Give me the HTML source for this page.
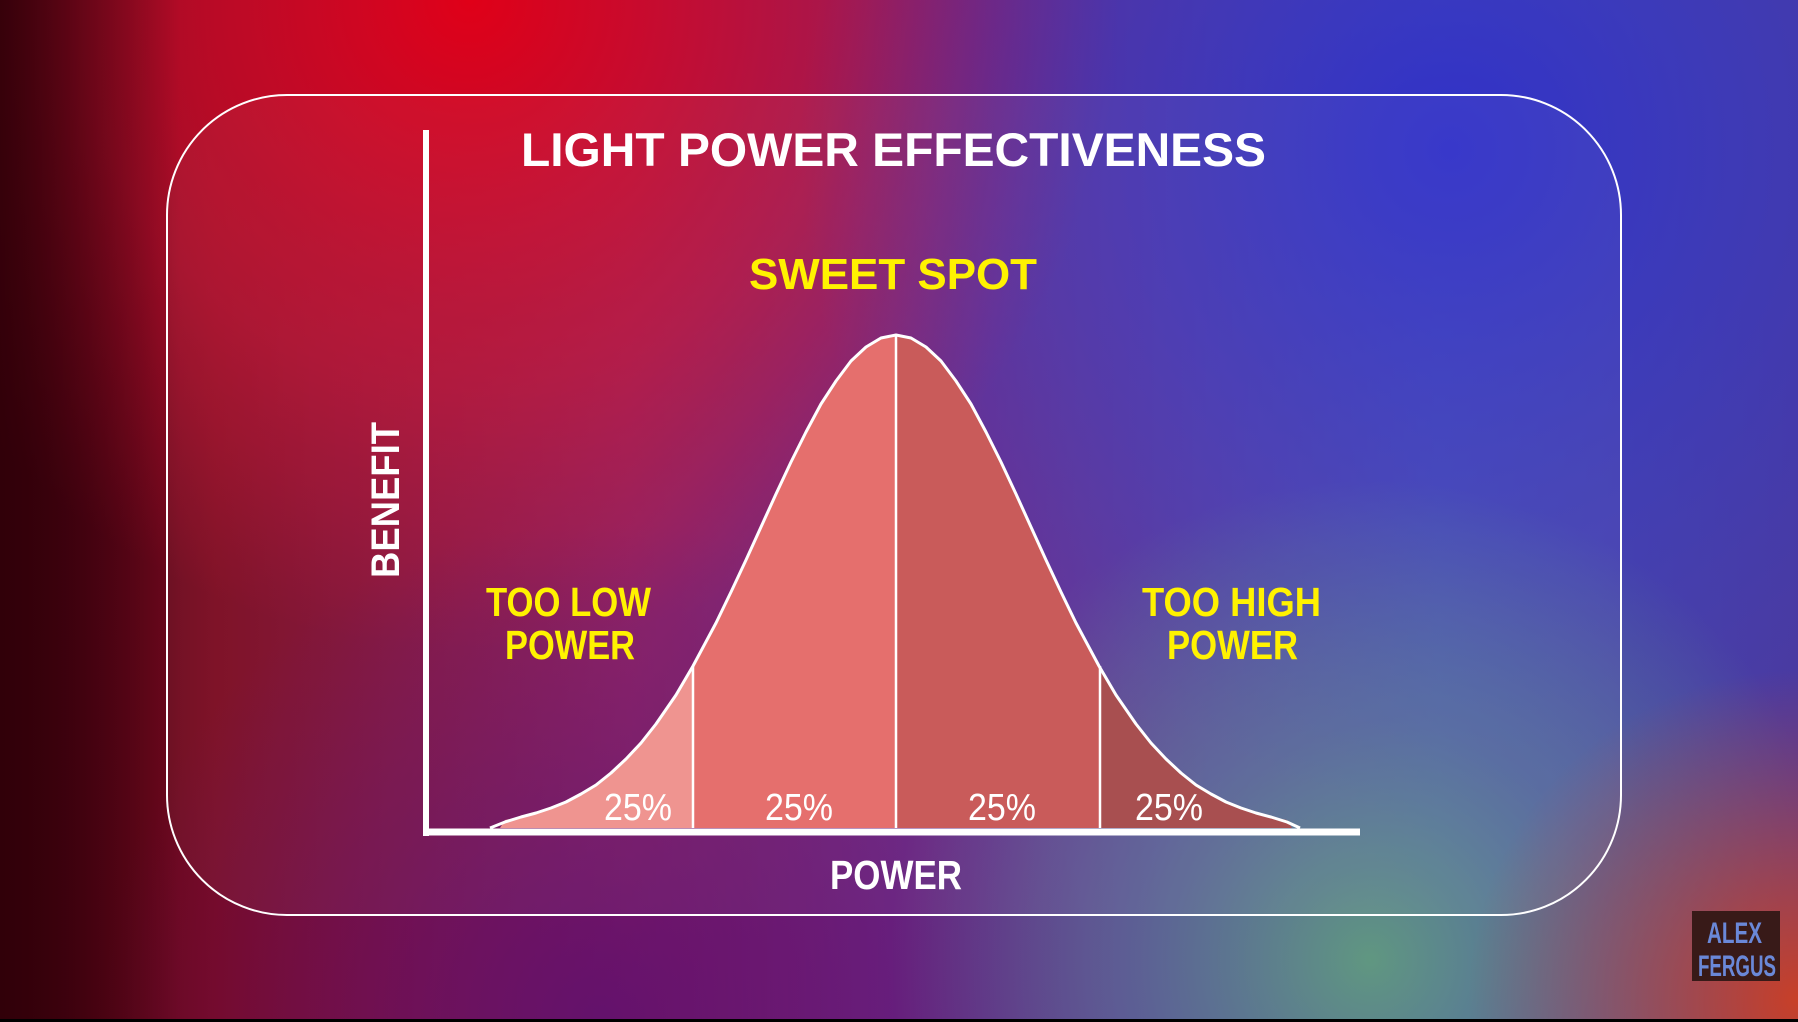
<!DOCTYPE html>
<html><head><meta charset="utf-8"><style>
html,body{margin:0;padding:0;width:1798px;height:1022px;overflow:hidden;background:#000}
svg{display:block}
.c{font-family:"Liberation Sans Narrow","Liberation Sans",sans-serif;font-weight:bold}
</style></head><body>
<svg width="1798" height="1022" viewBox="0 0 1798 1022" xmlns="http://www.w3.org/2000/svg">
<defs>
<linearGradient id="base" x1="0" y1="0" x2="1" y2="0">
<stop offset="0" stop-color="#3a0010"/><stop offset="0.12" stop-color="#7a0a20"/>
<stop offset="0.35" stop-color="#8a1a60"/><stop offset="0.55" stop-color="#62288e"/>
<stop offset="0.8" stop-color="#4a4ab0"/><stop offset="1" stop-color="#4a3aa0"/>
</linearGradient>
<radialGradient id="red" cx="470" cy="0" r="650" gradientUnits="userSpaceOnUse">
<stop offset="0" stop-color="#e00018" stop-opacity="1"/><stop offset="0.6" stop-color="#c81030" stop-opacity="0.6"/><stop offset="1" stop-color="#c81030" stop-opacity="0"/>
</radialGradient>
<radialGradient id="blue" cx="1450" cy="150" r="650" gradientUnits="userSpaceOnUse">
<stop offset="0" stop-color="#3030c8" stop-opacity="1"/><stop offset="1" stop-color="#3a40c0" stop-opacity="0"/>
</radialGradient>
<radialGradient id="green" cx="1370" cy="960" r="480" gradientUnits="userSpaceOnUse">
<stop offset="0" stop-color="#62a07c" stop-opacity="0.9"/><stop offset="0.5" stop-color="#5f8a90" stop-opacity="0.5"/><stop offset="1" stop-color="#60a080" stop-opacity="0"/>
</radialGradient>
<radialGradient id="orng" cx="1798" cy="1000" r="330" gradientUnits="userSpaceOnUse">
<stop offset="0" stop-color="#c84028" stop-opacity="1"/><stop offset="1" stop-color="#c04030" stop-opacity="0"/>
</radialGradient>
<radialGradient id="purp" cx="600" cy="1022" r="500" gradientUnits="userSpaceOnUse">
<stop offset="0" stop-color="#5a1070" stop-opacity="0.8"/><stop offset="1" stop-color="#5a1070" stop-opacity="0"/>
</radialGradient>
<linearGradient id="dark" x1="0" y1="0" x2="1" y2="0">
<stop offset="0" stop-color="#300008" stop-opacity="0.9"/><stop offset="0.1" stop-color="#300008" stop-opacity="0"/>
</linearGradient>
</defs>
<rect width="1798" height="1022" fill="url(#base)"/>
<rect width="1798" height="1022" fill="url(#red)"/>
<rect width="1798" height="1022" fill="url(#blue)"/>
<rect width="1798" height="1022" fill="url(#purp)"/>
<rect width="1798" height="1022" fill="url(#green)"/>
<rect width="1798" height="1022" fill="url(#orng)"/>
<rect width="1798" height="1022" fill="url(#dark)"/>
<rect x="0" y="1019" width="1798" height="3" fill="#000"/>

<rect x="167" y="95" width="1454" height="820" rx="120" ry="120" fill="rgba(255,255,255,0.04)" stroke="#fff" stroke-width="2"/>

<polygon fill="#ef9490" points="500,828 505,820 521,817 536,813 551,808 566,802 581,794 596,785 611,773 626,759 641,743 656,724 676,695 693,666 693,828"/>
<polygon fill="#e56f6d" points="693,666 716,623 731,592 746,560 761,527 776,494 791,462 806,432 821,404 836,381 851,361 866,347 881,338 896,335 896,828 693,828"/>
<polygon fill="#c95b5a" points="896,335 911,338 926,347 941,361 956,381 971,404 986,432 1001,462 1016,494 1031,527 1046,560 1061,592 1076,623 1099,666 1099,828 896,828"/>
<polygon fill="#a84f50" points="1099,666 1116,695 1136,724 1151,743 1166,759 1181,773 1196,785 1211,794 1226,802 1241,808 1256,813 1271,817 1287,820 1292,828 1099,828"/>
<polyline fill="none" stroke="#fff" stroke-width="3" stroke-linejoin="round" points="490,828 505,822 521,817 536,813 551,808 566,802 581,794 596,785 611,773 626,759 641,743 656,724 676,695 693,666 716,623 731,592 746,560 761,527 776,494 791,462 806,432 821,404 836,381 851,361 866,347 881,338 896,335 911,338 926,347 941,361 956,381 971,404 986,432 1001,462 1016,494 1031,527 1046,560 1061,592 1076,623 1099,666 1116,695 1136,724 1151,743 1166,759 1181,773 1196,785 1211,794 1226,802 1241,808 1256,813 1271,817 1287,822 1300,828"/>
<g stroke="#fff" stroke-width="2.5">
<line x1="693" y1="666" x2="693" y2="828"/><line x1="896" y1="335" x2="896" y2="828"/><line x1="1100" y1="666" x2="1100" y2="828"/>
</g>
<line x1="426" y1="130" x2="426" y2="836" stroke="#fff" stroke-width="6"/>
<line x1="423" y1="832" x2="1360" y2="832" stroke="#fff" stroke-width="7"/>

<g fill="#fff" font-family="Liberation Sans Narrow, Liberation Sans, sans-serif" font-size="38">
<text x="604" y="820" textLength="68" lengthAdjust="spacingAndGlyphs">25%</text>
<text x="765" y="820" textLength="68" lengthAdjust="spacingAndGlyphs">25%</text>
<text x="968" y="820" textLength="68" lengthAdjust="spacingAndGlyphs">25%</text>
<text x="1135" y="820" textLength="68" lengthAdjust="spacingAndGlyphs">25%</text>
</g>

<g class="c">
<text x="521" y="166" font-size="47" fill="#fff" textLength="745" lengthAdjust="spacingAndGlyphs">LIGHT POWER EFFECTIVENESS</text>
<text x="749" y="289" font-size="44" fill="#fff200" textLength="288" lengthAdjust="spacingAndGlyphs">SWEET SPOT</text>
<text x="486" y="616" font-size="41" fill="#fff200" textLength="165" lengthAdjust="spacingAndGlyphs">TOO LOW</text>
<text x="505" y="659" font-size="41" fill="#fff200" textLength="130" lengthAdjust="spacingAndGlyphs">POWER</text>
<text x="1142" y="616" font-size="41" fill="#fff200" textLength="179" lengthAdjust="spacingAndGlyphs">TOO HIGH</text>
<text x="1167" y="659" font-size="41" fill="#fff200" textLength="131" lengthAdjust="spacingAndGlyphs">POWER</text>
<text x="830" y="889" font-size="41" fill="#fff" textLength="132" lengthAdjust="spacingAndGlyphs">POWER</text>
</g>
<text transform="translate(399,578) rotate(-90)" font-family="Liberation Sans, sans-serif" font-weight="bold" font-size="40" fill="#fff" textLength="156" lengthAdjust="spacingAndGlyphs">BENEFIT</text>

<rect x="1692" y="911" width="88" height="70" fill="#381a18"/>
<g class="c" fill="#6a88d8" font-size="30">
<text x="1707" y="943" textLength="55" lengthAdjust="spacingAndGlyphs">ALEX</text>
<text x="1698" y="976" textLength="78" lengthAdjust="spacingAndGlyphs">FERGUS</text>
</g>
</svg>
</body></html>
